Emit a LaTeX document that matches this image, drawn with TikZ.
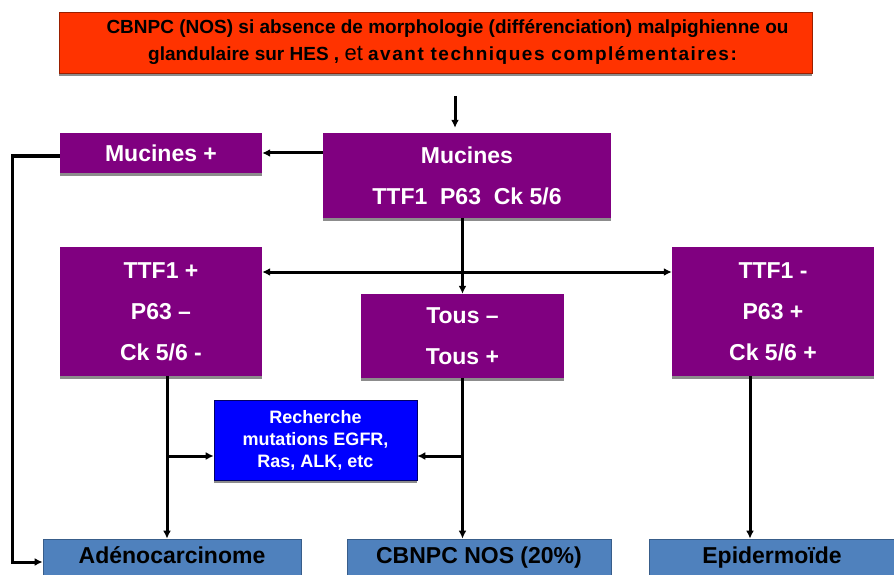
\documentclass[tikz,border=0pt]{standalone}
\usepackage{fontspec}
\setmainfont{Liberation Sans}
\usetikzlibrary{arrows.meta,shadows}
\definecolor{hdrred}{HTML}{FF3300}
\definecolor{boxpurple}{HTML}{800080}
\definecolor{boxblue}{HTML}{0000FF}
\definecolor{endblue}{HTML}{4F81BD}
\definecolor{endline}{HTML}{385D8A}
\begin{document}
\begin{tikzpicture}[x=1pt,y=-1pt,
  shade3/.style={drop shadow={shadow xshift=0pt,shadow yshift=-3pt,fill=black!45,opacity=1}},
  hdrbox/.style={shade3,fill=hdrred,draw=hdrred!60!black,line width=0.8pt,inner sep=0pt,align=center,
    font=\bfseries\fontsize{19}{27}\selectfont},
  pbox/.style={shade3,fill=boxpurple,inner sep=0pt,align=center,text=white,
    font=\bfseries\fontsize{23}{41}\selectfont},
  mutbox/.style={shade3,fill=boxblue,draw=boxblue!40!black,line width=0.6pt,inner sep=0pt,align=center,text=white,
    font=\bfseries\fontsize{18}{22}\selectfont},
  endbox/.style={fill=endblue,draw=endline,line width=0.8pt,inner sep=0pt,align=center,text=black,
    font=\bfseries\fontsize{23}{27}\selectfont,minimum height=36,text height=17,text depth=5},
  conn/.style={line width=3pt,-{Latex[length=8pt,width=8pt]}},
  both/.style={line width=3pt,{Latex[length=8pt,width=8pt]}-{Latex[length=8pt,width=8pt]}}
]
\useasboundingbox (0,0) rectangle (894,575);

% heading
\node[hdrbox,minimum width=753,minimum height=61] (hdr) at (435.5,42.5)
  {\hspace*{24pt}CBNPC (NOS) si absence de morphologie (différenciation) malpighienne ou\\
   \hspace*{14pt}glandulaire sur HES , {\mdseries\fontsize{22}{27}\selectfont et} {\addfontfeature{LetterSpace=8}avant techniques complémentaires:}};

% marker panels
\node[pbox,minimum width=202,minimum height=40] (mplus) at (161,153) {Mucines +};
\node[pbox,minimum width=288,minimum height=85] (muc) at (467,175.5) {Mucines\\TTF1\ \ P63\ \ Ck 5/6};
\node[pbox,minimum width=202,minimum height=129] (ttfp) at (161,311.5) {TTF1 +\\P63 –\\Ck 5/6 -};
\node[pbox,minimum width=203,minimum height=84] (tous) at (462.5,336) {Tous –\\Tous +};
\node[pbox,minimum width=202,minimum height=129] (ttfm) at (773,311.5) {TTF1 -\\P63 +\\Ck 5/6 +};
\node[mutbox,minimum width=203,minimum height=80] (mut) at (315.5,440) {Recherche\\mutations EGFR,\\Ras, ALK, etc};

% conclusions
\node[endbox,minimum width=258] (adeno) at (172,557) {Adénocarcinome};
\node[endbox,minimum width=264] (nos) at (479,557) {CBNPC NOS (20\%)};
\node[endbox,minimum width=246] (epid) at (772,557) {Epidermoïde};

% connectors
\coordinate (entry) at (455,96);
\draw[conn,shorten >=5pt] (entry) -- (entry |- muc.north);
\draw[conn] (muc.west |- mplus.east) -- (mplus.east);
\draw[conn] ([yshift=-3pt]mplus.west) -- ++(-47,0) |- ([yshift=-5pt]adeno.west);
\draw[conn] (tous.north |- muc.south) -- (tous.north);
\draw[both] (ttfp.east |- 0,272) -- (ttfm.west |- 0,272);

\coordinate (lt) at ([xshift=6pt]ttfp.south);
\coordinate (rt) at ([xshift=-23pt]ttfm.south);
\draw[conn] (lt) -- (lt |- adeno.north);
\draw[conn] (tous.south) -- (tous.south |- nos.north);
\draw[conn] (rt) -- (rt |- epid.north);

\coordinate (mL) at ([yshift=-16pt]mut.west);
\coordinate (mR) at ([yshift=-16pt]mut.east);
\draw[conn] (lt |- mL) -- (mL);
\draw[conn] (tous.south |- mR) -- (mR);
\end{tikzpicture}
\end{document}
